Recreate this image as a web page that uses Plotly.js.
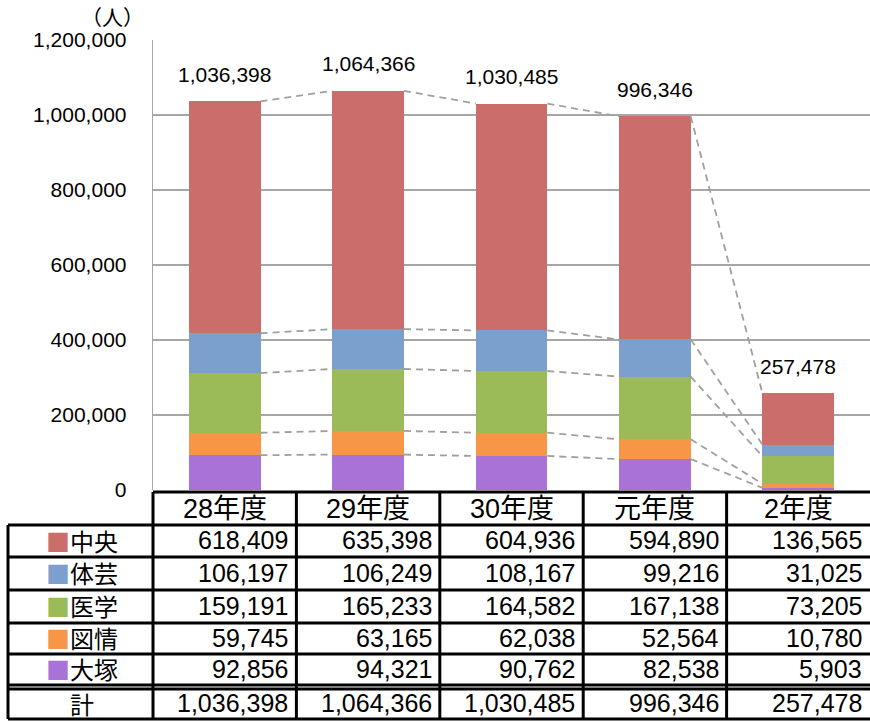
<!DOCTYPE html>
<html><head><meta charset="utf-8">
<script src="https://cdn.plot.ly/plotly-3.0.1.min.js"></script>
<style>html,body{margin:0;padding:0;background:#fff}</style>
</head><body><div id="chart" style="width:870px;height:722px"></div>
<script>
// ---- data ----
const years = ['28年度','29年度','30年度','元年度','2年度'];
const seriesNames = ['中央','体芸','医学','図情','大塚'];
const chuo   = [618409,635398,604936,594890,136565];
const taigei = [106197,106249,108167,99216,31025];
const igaku  = [159191,165233,164582,167138,73205];
const zujo   = [59745,63165,62038,52564,10780];
const otsuka = [92856,94321,90762,82538,5903];
const totals = [1036398,1064366,1030485,996346,257478];
const totalLabel = '計';
const unitLabel = '（人）';
const seriesColors = ['#CB6E6B','#7BA0CD','#9BBB59','#F79646','#A872D6'];

// ---- layout helpers ----
const L = 153, T = 40, W = 717, H = 450, N = years.length;
const xPaperPx = p => (p - L) / W;          // pixel -> paper x
const xPaperCat = c => (c + 0.5) / N;       // category position -> paper x
const yPaper = p => (T + H - p) / H;        // pixel -> paper y
const fmt = v => v.toLocaleString('en-US');

const tableSeries = [chuo, taigei, igaku, zujo, otsuka];
const stackOrder = [4, 3, 2, 1, 0]; // bottom to top
const xs = years.map((_, i) => i);

const traces = [];
stackOrder.forEach(k => {
  traces.push({
    type: 'bar', x: xs, y: tableSeries[k], width: 0.5,
    marker: {color: seriesColors[k], line: {width: 0}},
    name: seriesNames[k], hoverinfo: 'skip'
  });
});
// series lines (connect tops of each stacked segment)
let cum = years.map(() => 0);
stackOrder.forEach(k => {
  cum = cum.map((c, i) => c + tableSeries[k][i]);
  const lx = [], ly = [];
  for (let i = 0; i < N - 1; i++) {
    lx.push(i + 0.25, i + 0.75, null);
    ly.push(cum[i], cum[i + 1], null);
  }
  traces.push({type: 'scatter', mode: 'lines', x: lx, y: ly,
    line: {color: '#A0A0A0', width: 1.8, dash: '7px,5px'},
    hoverinfo: 'skip', connectgaps: false});
});

const numFont = {family: 'Liberation Sans, sans-serif', size: 25, color: '#000'};
const headFont = {family: 'Liberation Sans, Noto Sans CJK JP, sans-serif', size: 27, color: '#000'};
const cjkFont = {family: 'Noto Sans CJK JP, sans-serif', size: 24, color: '#000'};

const annotations = [];
// total labels above bars
totals.forEach((t, i) => annotations.push({
  x: i, y: t, xref: 'x', yref: 'y', text: fmt(t), showarrow: false,
  yanchor: 'middle', yshift: 27,
  font: {family: 'Liberation Sans, sans-serif', size: 21, color: '#000'}
}));
// unit label
annotations.push({x: xPaperPx(112), y: yPaper(16), xref: 'paper', yref: 'paper',
  text: unitLabel, showarrow: false, xanchor: 'center', yanchor: 'middle',
  font: {family: 'Noto Sans CJK JP, sans-serif', size: 21, color: '#000'}});

// table geometry (pixels)
const headTop = 492, headBot = 525;
const rowEdges = [525, 557, 590, 623, 654, 685];
const totTop = 689, totBot = 719;
const leftEdge = 8, labelCenter = 82;

// header
years.forEach((y, i) => annotations.push({
  x: xPaperCat(i), y: yPaper((headTop + headBot) / 2), xref: 'paper', yref: 'paper', text: y,
  showarrow: false, xanchor: 'center', yanchor: 'middle', font: headFont
}));
// data rows
tableSeries.forEach((arr, r) => {
  const yc = (rowEdges[r] + rowEdges[r + 1]) / 2 - 1;
  annotations.push({x: xPaperPx(labelCenter), y: yPaper(yc), xref: 'paper', yref: 'paper',
    text: `<span style="color:${seriesColors[r]}">■</span>${seriesNames[r]}`,
    showarrow: false, xanchor: 'center', yanchor: 'middle', font: cjkFont});
  arr.forEach((v, i) => annotations.push({
    x: xPaperCat(i + 0.5), y: yPaper(yc), xref: 'paper', yref: 'paper', text: fmt(v),
    showarrow: false, xanchor: 'right', yanchor: 'middle', xshift: -6, font: numFont}));
});
// totals row
const ytc = (totTop + totBot) / 2 - 1;
annotations.push({x: xPaperPx(labelCenter), y: yPaper(ytc), xref: 'paper', yref: 'paper',
  text: totalLabel, showarrow: false, xanchor: 'center', yanchor: 'middle', font: cjkFont});
totals.forEach((v, i) => annotations.push({
  x: xPaperCat(i + 0.5), y: yPaper(ytc), xref: 'paper', yref: 'paper', text: fmt(v),
  showarrow: false, xanchor: 'right', yanchor: 'middle', xshift: -6, font: numFont}));

// table lines
const shapes = [];
const hline = (p, x0, x1) => shapes.push({type: 'line', xref: 'paper', yref: 'paper',
  x0: x0, x1: x1, y0: yPaper(p), y1: yPaper(p), line: {color: '#000', width: 3}});
const vline = (x, p0, p1) => shapes.push({type: 'line', xref: 'paper', yref: 'paper',
  x0: x, x1: x, y0: yPaper(p0), y1: yPaper(p1), line: {color: '#000', width: 3}});
hline(headTop, 0, 1);
rowEdges.forEach(p => hline(p, xPaperPx(leftEdge), 1));
hline(totTop, xPaperPx(leftEdge), 1);
hline(totBot, xPaperPx(leftEdge), 1);
vline(xPaperPx(leftEdge), headBot, totBot);
for (let k = 0; k < N; k++) vline(xPaperCat(k - 0.5), headTop, totBot);

const layout = {
  width: 870, height: 722,
  margin: {l: L, r: 870 - L - W, t: T, b: 722 - T - H, pad: 0},
  paper_bgcolor: '#fff', plot_bgcolor: '#fff',
  barmode: 'stack', showlegend: false, hovermode: false,
  xaxis: {type: 'linear', range: [-0.5, N - 0.5], showticklabels: false,
    showgrid: false, zeroline: false, showline: false, ticks: ''},
  yaxis: {range: [0, 1200000], dtick: 200000, tickformat: ',d',
    showgrid: true, gridcolor: '#A6A6A6', gridwidth: 1.3,
    zeroline: false, showline: true, linecolor: '#A6A6A6', linewidth: 1.3,
    ticks: 'outside', ticklen: 21, tickcolor: 'rgba(0,0,0,0)',
    tickfont: {family: 'Liberation Sans, sans-serif', size: 21, color: '#000'}},
  annotations: annotations, shapes: shapes
};
Plotly.newPlot('chart', traces, layout, {staticPlot: true, displayModeBar: false});
</script></body></html>
